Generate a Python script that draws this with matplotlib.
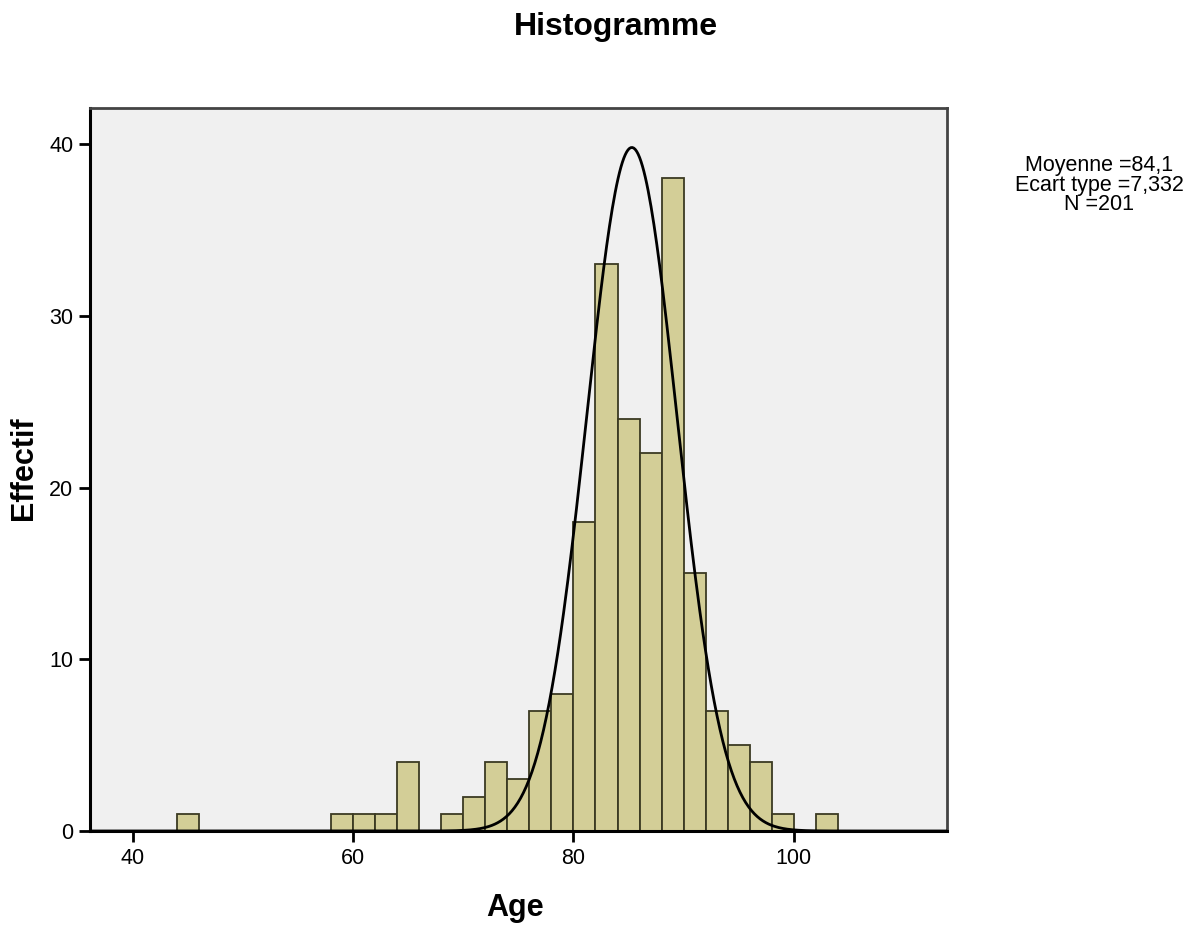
import matplotlib
matplotlib.use("Agg")
import matplotlib.pyplot as plt
import numpy as np

plt.rcParams['font.family'] = ['Liberation Sans', 'DejaVu Sans']

# histogram data (bins of width 2)
bin_left = [44, 58, 60, 62, 64, 68, 70, 72, 74, 76, 78, 80, 82, 84, 86, 88, 90, 92, 94, 96, 98, 102]
counts = [1, 1, 1, 1, 4, 1, 2, 4, 3, 7, 8, 18, 33, 24, 22, 38, 15, 7, 5, 4, 1, 1]
bin_width = 2

# normal curve as drawn in the picture
curve_center = 85.3
curve_sd = 4.1
curve_peak = 39.8

x_ticks = [40, 60, 80, 100]
y_ticks = [0, 10, 20, 30, 40]
stats_text = "Moyenne =84,1\nEcart type =7,332\nN =201"

fig = plt.figure(figsize=(12, 9.26), dpi=100)
ax = fig.add_axes([0.075, 0.1026, 0.714, 0.7808])
ax.set_facecolor('#f0f0f0')

ax.bar(bin_left, counts, width=bin_width, align='edge',
       color='#d3ce97', edgecolor='#3b3a22', linewidth=1.3, zorder=2)

xs = np.linspace(36, 114, 600)
ys = curve_peak * np.exp(-0.5 * ((xs - curve_center) / curve_sd) ** 2)
ax.plot(xs, ys, color='black', linewidth=2, zorder=3)

ax.set_xlim(36.1, 113.9)
ax.set_ylim(0, 42.1)
ax.set_xticks(x_ticks)
ax.set_yticks(y_ticks)
ax.tick_params(direction='out', length=8, width=2, labelsize=15.5, pad=4, colors='black')
for side in ['left', 'bottom']:
    ax.spines[side].set_linewidth(2.2)
    ax.spines[side].set_color('black')
for side in ['top', 'right']:
    ax.spines[side].set_linewidth(2)
    ax.spines[side].set_color('#444444')

fig.text(616 / 1200, 1 - 27 / 926, "Histogramme", fontsize=23, fontweight='bold',
         ha='center', va='center')
fig.text(515 / 1200, 1 - 908 / 926, "Age", fontsize=22, fontweight='bold',
         ha='center', va='center')
fig.text(24 / 1200, 1 - 468 / 926, "Effectif", fontsize=22, fontweight='bold',
         ha='center', va='center', rotation=90)
fig.text(1099 / 1200, 1 - 185 / 926, stats_text, fontsize=15.5,
         ha='center', va='center', multialignment='center', linespacing=0.88)

fig.savefig('out.png', dpi=100)
